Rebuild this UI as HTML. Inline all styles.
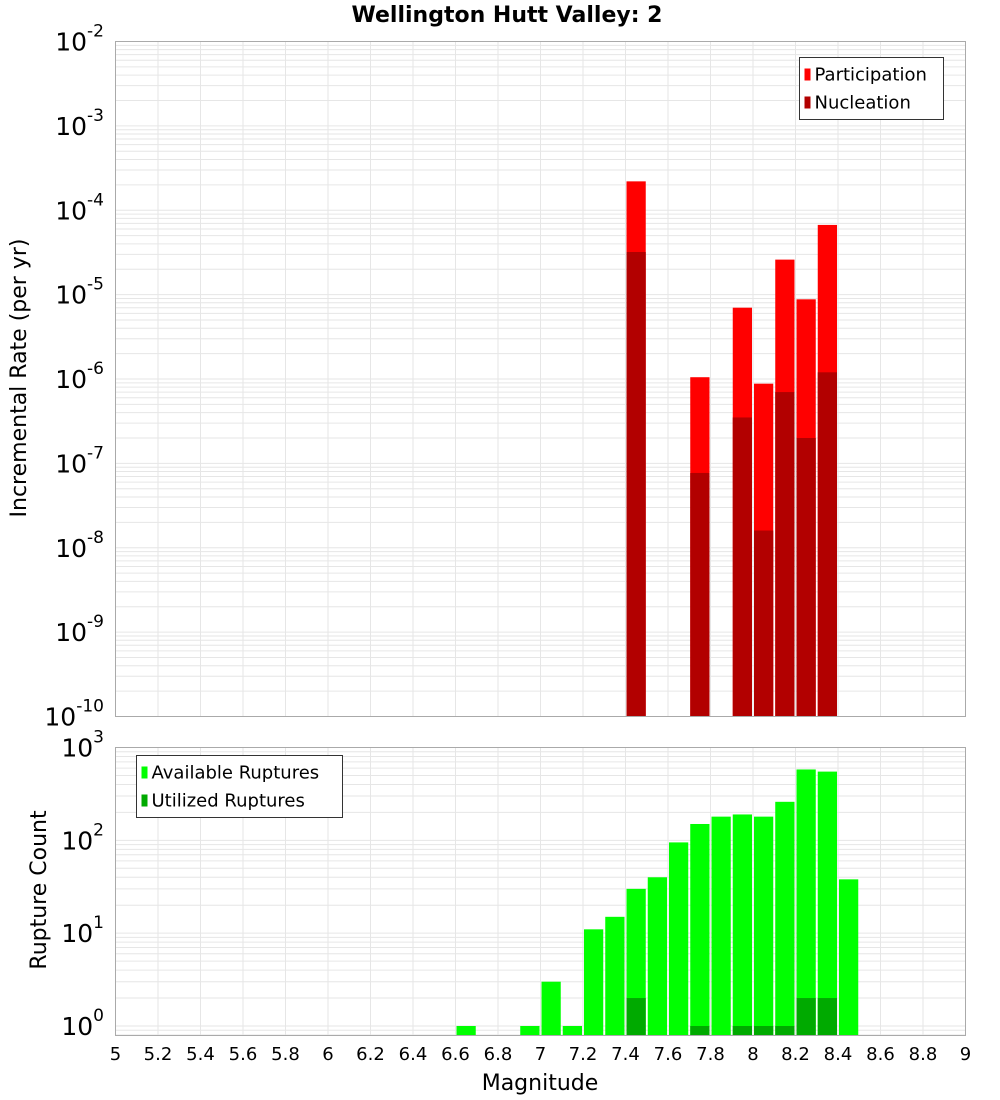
<!DOCTYPE html>
<html><head><meta charset="utf-8">
<style>
body{margin:0;background:#fff;font-family:"Liberation Sans","DejaVu Sans",sans-serif;}
svg{display:block}
</style></head>
<body>
<svg id="chart" width="1000" height="1100" xmlns="http://www.w3.org/2000/svg">
<rect width="1000" height="1100" fill="#fff"/>
<text x="507" y="22" text-anchor="middle" font-family="DejaVu Sans, sans-serif" font-weight="bold" font-size="22">Wellington Hutt Valley: 2</text>
<g id="topg"></g>
<g id="botg"></g>
<text transform="translate(26,378) rotate(-90)" text-anchor="middle" font-family="DejaVu Sans, sans-serif" font-size="22">Incremental Rate (per yr)</text>
<text transform="translate(46,890) rotate(-90)" text-anchor="middle" font-family="DejaVu Sans, sans-serif" font-size="22">Rupture Count</text>
<text x="540" y="1090" text-anchor="middle" font-family="DejaVu Sans, sans-serif" font-size="22">Magnitude</text>
</svg>
<script>
const xTicks = [5,5.2,5.4,5.6,5.8,6,6.2,6.4,6.6,6.8,7,7.2,7.4,7.6,7.8,8,8.2,8.4,8.6,8.8,9];
const rateMags = [7.45,7.75,7.95,8.05,8.15,8.25,8.35];
const participation = [2.2e-4,1.05e-6,7e-6,8.8e-7,2.6e-5,8.8e-6,6.7e-5];
const nucleation = [3.2e-5,7.7e-8,3.5e-7,1.6e-8,7e-7,2e-7,1.2e-6];
const countMags = [6.65,6.95,7.05,7.15,7.25,7.35,7.45,7.55,7.65,7.75,7.85,7.95,8.05,8.15,8.25,8.35,8.45];
const available = [1,1,3,1,11,15,30,40,95,150,180,190,180,260,580,550,38];
const utilMags = [7.45,7.75,7.95,8.05,8.15,8.25,8.35];
const utilized = [2,1,1,1,1,2,2];

const NS="http://www.w3.org/2000/svg";
const L=115.5,R=965.5;
const xs=m=>L+(m-5)/4*(R-L);
const T1=41.5,B1=716.5, yTop=v=>T1+(-2-Math.log10(v))/8*(B1-T1);
const T2=747.5,B2=1035.5, yBot=v=>T2+(3-Math.log10(v))/3*(1026-T2);
function mk(p,tag,at,txt){const e=document.createElementNS(NS,tag);for(const k in at)e.setAttribute(k,at[k]);if(txt!==undefined)e.textContent=txt;p.appendChild(e);return e;}
const gTop=document.getElementById('topg'),gBot=document.getElementById('botg');

function grid(g,T,B,ysc,dmin,dmax){
  for(let d=dmin;d<dmax;d++)for(let k=1;k<10;k++){const v=k*Math.pow(10,d);const y=ysc(v);if(y<T||y>B)continue;
    const ln=mk(g,'line',{x1:L,x2:R,y1:y,y2:y,stroke:'#e6e6e6','stroke-width':1});
    
    }
  xTicks.forEach(t=>{const x=xs(t);const ln=mk(g,'line',{x1:x,x2:x,y1:T,y2:B,stroke:'#e6e6e6','stroke-width':1});
    
    });
}
grid(gTop,T1,B1,yTop,-10,-1);
grid(gBot,T2,B2,yBot,-1,3);

function bars(g,mags,vals,ysc,base,color,name){
  mags.forEach((m,i)=>{const x0=xs(m-0.05)+1,x1=xs(m+0.05)-1;const y=ysc(vals[i]);
    const r=mk(g,'rect',{x:x0,y:y,width:x1-x0,height:base-y,fill:color});
    
    });
}
bars(gTop,rateMags,participation,yTop,B1,'#ff0000','participation-bar');
bars(gTop,rateMags,nucleation,yTop,B1,'#b20000','nucleation-bar');
bars(gBot,countMags,available,yBot,B2,'#00ff00','available-bar');
bars(gBot,utilMags,utilized,yBot,B2,'#00aa00','utilized-bar');

[[gTop,T1,B1],[gBot,T2,B2]].forEach(([g,T,B])=>{const r=mk(g,'rect',{x:L,y:T,width:R-L,height:B-T,fill:'none',stroke:'#aaa','stroke-width':1});
  
  });

function ylab(g,exp,y){const t=mk(g,'text',{x:104,y:y+9,'text-anchor':'end','font-family':'DejaVu Sans, sans-serif','font-size':25});
  
  
  mk(t,'tspan',{},'10');mk(t,'tspan',{dy:-14,'font-size':17},String(exp));}
for(let e=-10;e<=-2;e++)ylab(gTop,e,yTop(Math.pow(10,e)));
for(let e=0;e<=3;e++)ylab(gBot,e,yBot(Math.pow(10,e)));

xTicks.forEach(t=>{const tx=mk(gBot,'text',{x:xs(t),y:1060,'text-anchor':'middle','font-family':'DejaVu Sans, sans-serif','font-size':18},String(t));
  
  });

function legend(g,x,y,w,items){const box=mk(g,'rect',{x:x,y:y,width:w,height:items.length*28+6,fill:'#fff',stroke:'#333','stroke-width':1});
  
  
  items.forEach((it,i)=>{const sw=mk(g,'rect',{x:x+5,y:y+11+i*28,width:6,height:12,fill:it[1]});
    
    
    const tx=mk(g,'text',{x:x+15,y:y+23+i*28,'font-family':'DejaVu Sans, sans-serif','font-size':18},it[0]);
    
    });}
legend(gTop,799.5,57.5,144,[['Participation','#ff0000'],['Nucleation','#b20000']]);
legend(gBot,136.5,755.5,206,[['Available Ruptures','#00ff00'],['Utilized Ruptures','#00aa00']]);
</script>
</body></html>
